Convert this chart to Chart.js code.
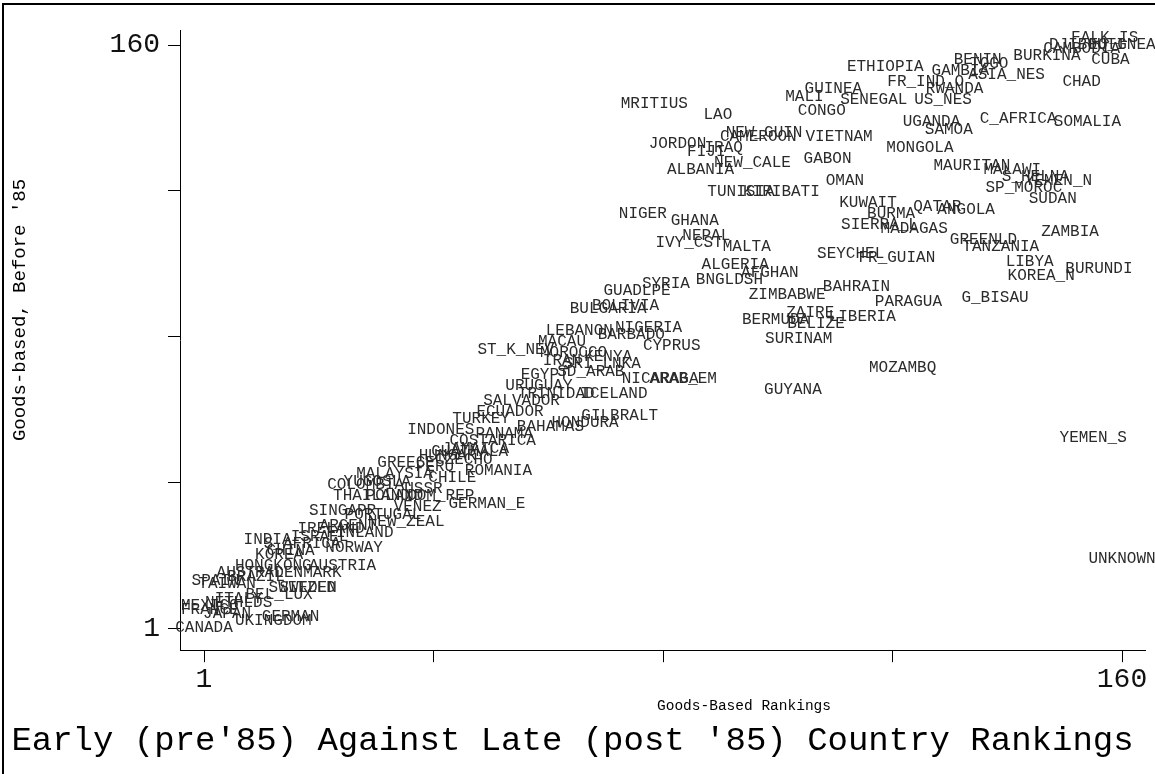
<!DOCTYPE html>
<html><head><meta charset="utf-8">
<script src="https://cdn.jsdelivr.net/npm/chart.js@4.4.1/dist/chart.umd.min.js"></script>
<style>
html,body{margin:0;padding:0;background:#fff;}
#wrap{position:relative;width:1155px;height:774px;overflow:hidden;}
#frame{position:absolute;left:2px;top:3px;width:1200px;height:800px;border-top:2px solid #000;border-left:2px solid #000;box-sizing:border-box;pointer-events:none;}
canvas{position:absolute;left:0;top:0;}
</style></head><body>
<div id="wrap"><canvas id="c" width="1155" height="774"></canvas><div id="frame"></div></div>
<script>
// Country labels (marker labels)
const countries = [
 "FALK_IS","DJIBOUTI","CAMBODIA","EQ_GNEA","CUBA","BURKINA","BENIN","TOGO","ETHIOPIA","GAMBIA",
 "ASIA_NES","CHAD","FR_IND_O","RWANDA","US_NES","SENEGAL","MALI","GUINEA","CONGO","MRITIUS",
 "LAO","UGANDA","SAMOA","C_AFRICA","SOMALIA","NEW_GUIN","CAMEROON","JORDON","VIETNAM","MONGOLA",
 "IRAQ","FIJI","NEW_CALE","GABON","ALBANIA","MAURITAN","MALAWI","S_HELNA","YEMEN_N","SP_MOROC",
 "SUDAN","OMAN","TUNISIA","KIRIBATI","KUWAIT","QATAR","ANGOLA","BURMA","SIERRA_L","MADAGAS",
 "GREENLD","ZAMBIA","TANZANIA","SEYCHEL","FR_GUIAN","LIBYA","BURUNDI","KOREA_N","BAHRAIN","PARAGUA",
 "G_BISAU","LIBERIA","NIGER","GHANA","NEPAL","IVY_CST","MALTA","ALGERIA","AFGHAN","BNGLDSH",
 "SYRIA","GUADLPE","ZIMBABWE","BOLIVIA","BULGARIA","ZAIRE","BERMUDA","BELIZE","NIGERIA","LEBANON",
 "BARBADO","SURINAM","CYPRUS","MACAU","ST_K_NEV","MOROCCO","KENYA","IRAN","SRI_LNKA","SD_ARAB",
 "EGYPT","NICARAGA","ARAB_EM","URUGUAY","TRINIDAD","ICELAND","SALVADOR","ECUADOR","TURKEY","GILBRALT",
 "HONDURA","BAHAMAS","INDONES","PANAMA","COSTARICA","JAMAICA","HUNGARY","GUATMALA","GREECE","PERU",
 "CZECHO","ROMANIA","MALAYSIA","CHILE","COLOMBIA","YUGOSLA","USSR","THAILAND","POLAND","DOM_REP",
 "GERMAN_E","VENEZ","SINGAPR","PORTUGAL","NEW_ZEAL","ARGENT","IRELAND","ISRAEL","FINLAND","INDIA",
 "S_AFRICA","NORWAY","CHINA","KOREA","HONGKONG","AUSTRIA","DENMARK","AUSTRAL","BRAZIL","SPAIN",
 "TAIWAN","SWITZLD","SWEDEN","BEL_LUX","ITALY","NETHLDS","MEXICO","FRANCE","JAPAN","GERMAN",
 "UKINGDOM","CANADA","MOZAMBQ","GUYANA","YEMEN_S","UNKNOWN"
];
// Goods-based ranking, late period (x axis)
const rankLate = [
 157,154,153,160,158,147,135,137,119,132,
 140,153,126,131,129,117,105,110,108,79,
 90,127,130,142,154,98,97,83,111,125,
 91,88,96,109,87,134,141,145,149,143,
 148,112,94,101,116,128,133,120,118,124,
 136,151,139,113,121,144,156,146,114,123,
 138,115,77,86,88,85,95,93,99,92,
 81,76,102,74,71,106,100,107,78,66,
 75,104,82,63,55,65,71,63,70,68,
 60,80,84,59,62,72,56,54,49,73,
 67,61,42,53,51,48,44,47,36,41,
 46,52,34,44,29,31,39,30,34,42,
 50,38,25,32,36,26,23,21,28,12,
 18,27,16,14,13,25,19,9,10,3,
 5,18,19,14,7,7,2,2,5,16,
 13,1,122,103,155,160
];
// Goods-based ranking, before '85 (y axis)
const rankEarly = [
 162,160,159,160,156,157,156,155,154,153,
 152,150,150,148,145,145,146,148,142,144,
 141,139,137,140,139,136,135,133,135,132,
 132,131,128,129,126,127,126,124,123,121,
 118,123,120,120,117,116,115,114,111,110,
 107,109,105,103,102,101,99,97,94,90,
 91,86,114,112,108,106,105,100,98,96,
 95,93,92,89,88,87,85,84,83,82,
 81,80,78,79,77,76,75,74,73,71,
 70,69,69,67,65,65,63,60,58,59,
 57,56,55,54,52,50,48,49,46,45,
 47,44,43,42,40,41,39,37,37,37,
 35,34,33,32,30,29,28,26,27,25,
 24,23,22,21,18,18,16,16,15,14,
 13,12,12,10,9,8,7,6,5,4,
 3,1,72,66,53,20
];
const axisTicks = [1, 40.75, 80.5, 120.25, 160];
const shownTickLabels = [1, 160];
const xTitle = "Goods-Based Rankings";
const yTitle = "Goods-based, Before '85";
const mainTitle = "Early (pre'85) Against Late (post '85) Country Rankings";

const MONO = '"Liberation Mono", "DejaVu Sans Mono", monospace';

const labelPlugin = {
  id: 'mlabels',
  afterDatasetsDraw(chart) {
    const ctx = chart.ctx;
    const meta = chart.getDatasetMeta(0);
    ctx.save();
    ctx.font = '16px ' + MONO;
    ctx.fillStyle = '#2b2b2b';
    ctx.textAlign = 'center';
    ctx.textBaseline = 'middle';
    meta.data.forEach((pt, i) => { ctx.fillText(countries[i], pt.x, pt.y); });
    ctx.restore();
  },
  afterDraw(chart) {
    const ctx = chart.ctx;
    ctx.save();
    ctx.fillStyle = '#000';
    ctx.textAlign = 'center';
    ctx.textBaseline = 'middle';
    ctx.font = '14.5px ' + MONO;
    ctx.fillText(xTitle, 744, 706);
    ctx.translate(20, 310);
    ctx.rotate(-Math.PI / 2);
    ctx.font = '19px ' + MONO;
    ctx.fillText(yTitle, 0, 0);
    ctx.restore();
  }
};

function axisCfg(min, max, isX) {
  return {
    type: 'linear', min: min, max: max,
    afterBuildTicks: s => { s.ticks = axisTicks.map(v => ({ value: v })); },
    afterFit: s => { if (isX) s.height = 70; else s.width = 180; },
    ticks: {
      autoSkip: false, maxRotation: 0,
      callback: v => shownTickLabels.includes(v) ? String(v) : '',
      font: { family: MONO, size: 28 }, color: '#111', padding: isX ? 1 : 8
    },
    grid: { drawOnChartArea: false, drawTicks: true, tickLength: 12, color: '#000', lineWidth: 1 },
    border: { display: true, color: '#000', width: 1 }
  };
}

new Chart(document.getElementById('c'), {
  type: 'scatter',
  data: {
    datasets: [{
      data: countries.map((c, i) => ({ x: rankLate[i], y: rankEarly[i] })),
      pointRadius: 0, pointHoverRadius: 0
    }]
  },
  options: {
    responsive: false, devicePixelRatio: 1, animation: false,
    layout: { padding: { top: 30, right: 10, bottom: 13, left: 0 } },
    plugins: {
      legend: { display: false }, tooltip: { enabled: false },
      title: { display: true, position: 'bottom', text: mainTitle, color: '#000',
               font: { family: MONO, size: 34, weight: 'normal' }, padding: { top: 0, bottom: 0 } }
    },
    scales: { x: axisCfg(-3.16, 163.98, true), y: axisCfg(-5.0, 164.09, false) }
  },
  plugins: [labelPlugin]
});
</script>
</body></html>
